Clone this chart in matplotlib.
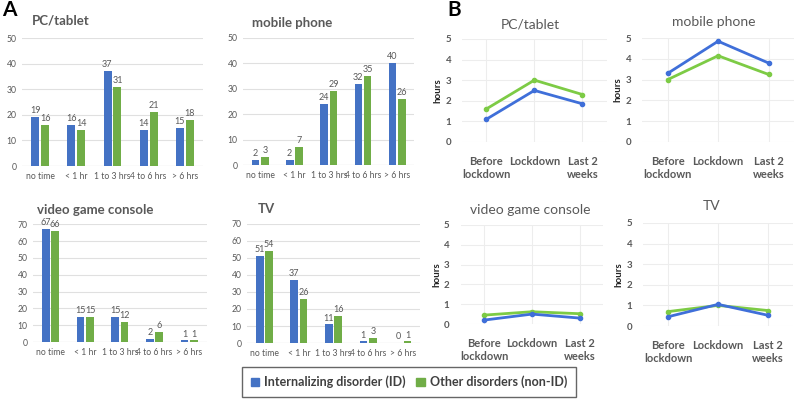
import matplotlib
matplotlib.use("Agg")
import matplotlib.pyplot as plt
from matplotlib.patches import Patch
import numpy as np

plt.rcParams['font.family'] = ['Lato', 'DejaVu Sans']

# --- data ---
bins = ['no time', '< 1 hr', '1 to 3 hrs', '4 to 6 hrs', '> 6 hrs']
pc_id = [19, 16, 37, 14, 15]
pc_non = [16, 14, 31, 21, 18]
mob_id = [2, 2, 24, 32, 40]
mob_non = [3, 7, 29, 35, 26]
vg_id = [67, 15, 15, 2, 1]
vg_non = [66, 15, 12, 6, 1]
tv_id = [51, 37, 11, 1, 0]
tv_non = [54, 26, 16, 3, 1]

periods = ['Before\nlockdown', 'Lockdown', 'Last 2\nweeks']
pc_h_id = [1.1, 2.5, 1.85]
pc_h_non = [1.6, 3.0, 2.3]
mob_h_id = [3.3, 4.85, 3.8]
mob_h_non = [3.0, 4.15, 3.25]
vg_h_id = [0.2, 0.5, 0.3]
vg_h_non = [0.45, 0.62, 0.52]
tv_h_id = [0.45, 1.05, 0.52]
tv_h_non = [0.7, 1.0, 0.75]

blue = '#4472C4'
green = '#70AD47'
lblue = '#3F6FD9'
lgreen = '#7DCB45'
gray = '#595959'

fig = plt.figure(figsize=(7.97, 4.01), dpi=100)


def bar_panel(rect, id_vals, non_vals, ymax, title, tpos):
    ax = fig.add_axes(rect)
    x = np.arange(len(bins))
    w = 0.22
    ax.bar(x - 0.135, id_vals, w, color=blue, zorder=3)
    ax.bar(x + 0.135, non_vals, w, color=green, zorder=3)
    for xi, v in zip(x, id_vals):
        ax.text(xi - 0.14, v + ymax * 0.015, str(v), ha='center', va='bottom',
                fontsize=6.5, color=gray)
    for xi, v in zip(x, non_vals):
        ax.text(xi + 0.14, v + ymax * 0.015, str(v), ha='center', va='bottom',
                fontsize=6.5, color=gray)
    ax.set_xlim(-0.5, 4.5)
    ax.set_ylim(0, ymax)
    ax.set_yticks(np.arange(0, ymax + 1, 10))
    ax.set_xticks(x)
    ax.set_xticklabels(bins)
    ax.tick_params(length=0, labelsize=6.2, colors=gray, pad=4)
    ax.grid(axis='y', color='#E0E0E0', lw=0.8, zorder=0)
    for s in ax.spines.values():
        s.set_visible(False)
    ax.axhline(0, color='#D0D0D0', lw=0.8, zorder=1)
    fig.text(tpos[0], tpos[1], title, ha='left', va='center', fontsize=9.5,
             fontweight='bold', color=gray)
    return ax


def line_panel(rect, id_vals, non_vals, title, tpos):
    ax = fig.add_axes(rect)
    x = np.arange(len(periods))
    ax.plot(x, non_vals, color=lgreen, lw=2, marker='o', ms=3, zorder=3)
    ax.plot(x, id_vals, color=lblue, lw=2, marker='o', ms=3, zorder=3)
    ax.set_xlim(-0.5, 2.5)
    ax.set_ylim(0, 5)
    ax.set_yticks(range(6))
    ax.set_xticks(x)
    ax.set_xticklabels(periods, fontweight='bold')
    ax.tick_params(axis='x', length=0, labelsize=8, colors=gray, pad=10)
    ax.tick_params(axis='y', length=0, labelsize=7, colors=gray, pad=8)
    for lab in ax.get_yticklabels():
        lab.set_fontweight('bold')
    ax.grid(color='#EDEDED', lw=0.8, zorder=0)
    for s in ax.spines.values():
        s.set_visible(False)
    ax.set_ylabel('hours', fontsize=7, fontweight='bold', color='#222222', labelpad=2)
    fig.text(tpos[0], tpos[1], title, ha='center', va='center', fontsize=10,
             color=gray)
    return ax


bar_panel([0.0276, 0.586, 0.227, 0.319], pc_id, pc_non, 50, 'PC/tablet', (0.040, 0.948))
bar_panel([0.305, 0.5885, 0.215, 0.317], mob_id, mob_non, 50, 'mobile phone', (0.316, 0.943))
bar_panel([0.0414, 0.147, 0.218, 0.294], vg_id, vg_non, 70, 'video game console', (0.046, 0.476))
bar_panel([0.310, 0.1446, 0.217, 0.297], tv_id, tv_non, 70, 'TV', (0.324, 0.479))

line_panel([0.580, 0.646, 0.181, 0.257], pc_h_id, pc_h_non, 'PC/tablet', (0.665, 0.938))
line_panel([0.806, 0.646, 0.190, 0.259], mob_h_id, mob_h_non, 'mobile phone', (0.895, 0.945))
line_panel([0.578, 0.192, 0.179, 0.247], vg_h_id, vg_h_non, 'video game console', (0.665, 0.476))
line_panel([0.807, 0.187, 0.188, 0.257], tv_h_id, tv_h_non, 'TV', (0.893, 0.486))

fig.text(0.003, 0.975, 'A', fontsize=15, fontweight='bold', ha='left', va='center')
fig.text(0.561, 0.975, 'B', fontsize=15, fontweight='bold', ha='left', va='center')

handles = [Patch(color=blue, label='Internalizing disorder (ID)'),
           Patch(color=green, label='Other disorders (non-ID)')]
leg = fig.legend(handles=handles, loc='center', bbox_to_anchor=(0.513, 0.047),
                 ncol=2, fontsize=9, frameon=True, fancybox=False,
                 handlelength=0.7, handleheight=0.7, handletextpad=0.4,
                 columnspacing=0.8, borderpad=0.7)
leg.get_frame().set_edgecolor('#404040')
leg.get_frame().set_linewidth(1.0)
for t in leg.get_texts():
    t.set_fontweight('bold')
    t.set_color('#404040')

fig.savefig('out.png', dpi=100)
